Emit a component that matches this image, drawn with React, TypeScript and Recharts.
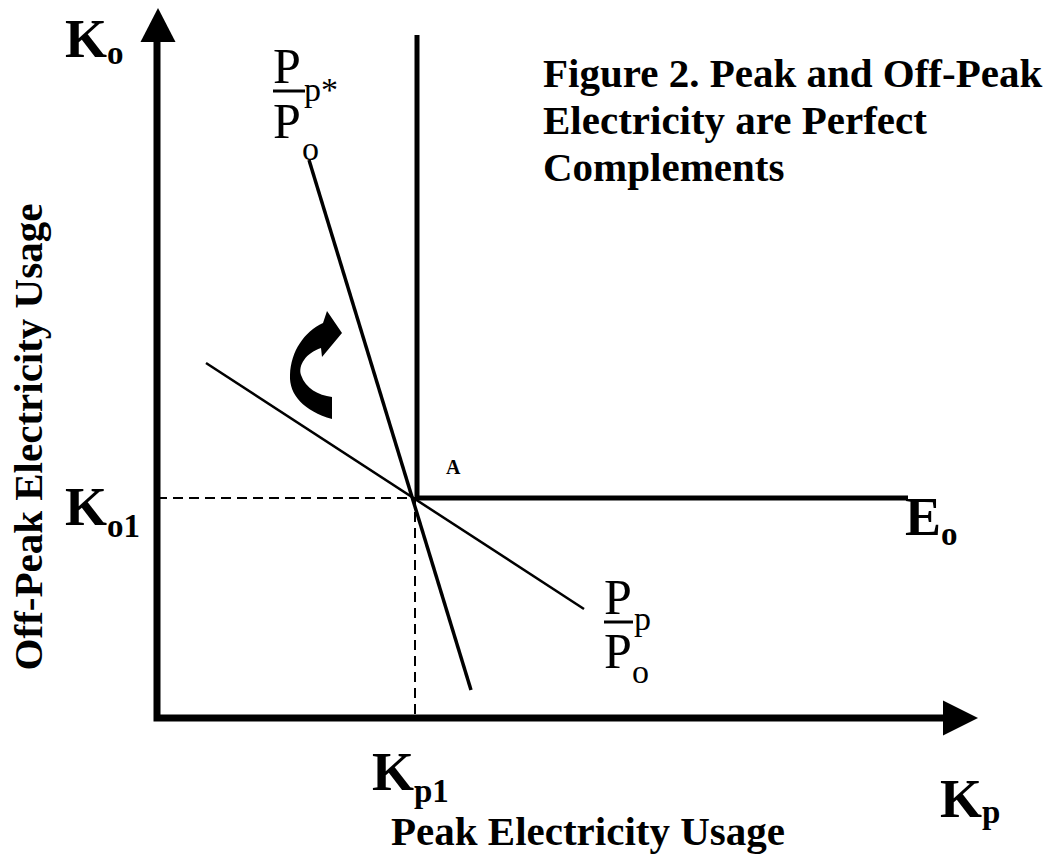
import { ComposedChart, Line, Scatter, XAxis, YAxis } from "recharts";

// diagram units: origin at the corner of the axes (Kp across, Ko up)
const axisFrame = [
  { x: 0, y: 676 },
  { x: 0, y: 0 },
  { x: 786, y: 0 },
];
const yAxisTip = [{ x: 1, y: 710 }];
const xAxisTip = [{ x: 821, y: 0 }];

// Leontief isoquant E_o with the corner at A = (Kp1, Ko1)
const isoquantEo = [
  { x: 260, y: 683 },
  { x: 260, y: 220 },
  { x: 751, y: 220 },
];
const guideKo1Kp1 = [
  { x: 0, y: 220 },
  { x: 258, y: 220 },
  { x: 258, y: 0 },
];
// price ratio lines through A
const priceRatioStar = [
  { x: 152, y: 558 },
  { x: 314, y: 28 },
];
const priceRatio = [
  { x: 49, y: 355 },
  { x: 427, y: 109 },
];
const rotationArrow = [{ x: 158, y: 353 }];

const FONT = "'Liberation Serif', 'Times New Roman', serif";

const UpTriangle = (props: any) => {
  const { cx, cy } = props;
  return <path d={`M${cx},${cy} L${cx + 17.5},${cy + 34} L${cx - 17.5},${cy + 34} Z`} fill="#000" />;
};

const RightTriangle = (props: any) => {
  const { cx, cy } = props;
  return <path d={`M${cx},${cy} L${cx - 35},${cy - 17.5} L${cx - 35},${cy + 17.5} Z`} fill="#000" />;
};

const CurvedArrow = (props: any) => {
  const { cx, cy } = props;
  return (
    <path
      transform={`translate(${cx},${cy})`}
      d="M17,54 C-11,46 -26,30 -25,10 C-24,-14 -11,-33 8,-42 L12,-54 L27,-32 L7,-8 L6,-17 C-9,-12 -17,0 -14,10 C-9,24 3,30 17,32 Z"
      fill="#000"
    />
  );
};

function Labels() {
  const bold = { fontFamily: FONT, fontWeight: 700, fill: "#000" } as const;
  const reg = { fontFamily: FONT, fontWeight: 400, fill: "#000" } as const;
  return (
    <svg
      width={1049}
      height={858}
      style={{ position: "absolute", left: 0, top: 0, pointerEvents: "none" }}
    >
      <text x={543} y={87} fontSize={41} {...bold}>Figure 2. Peak and Off-Peak</text>
      <text x={543} y={134} fontSize={41} {...bold}>Electricity are Perfect</text>
      <text x={543} y={181} fontSize={41} {...bold}>Complements</text>

      <text x={65} y={57} fontSize={54} {...bold}>
        K<tspan fontSize={33} dy={7}>o</tspan>
      </text>
      <text x={65} y={525} fontSize={54} {...bold}>
        K<tspan fontSize={33} dy={12}>o1</tspan>
      </text>
      <text x={372} y={790} fontSize={54} {...bold}>
        K<tspan fontSize={33} dy={12}>p1</tspan>
      </text>
      <text x={940} y={817} fontSize={54} {...bold}>
        K<tspan fontSize={33} dy={6}>p</tspan>
      </text>
      <text x={905} y={535} fontSize={54} {...bold}>
        E<tspan fontSize={33} dy={10}>o</tspan>
      </text>
      <text x={446} y={474} fontSize={20} {...bold}>A</text>

      <text x={588} y={845} fontSize={41} textAnchor="middle" {...bold}>Peak Electricity Usage</text>
      <text
        x={0}
        y={0}
        fontSize={41}
        textAnchor="middle"
        transform="translate(42,437) rotate(-90)"
        {...bold}
      >
        Off-Peak Electricity Usage
      </text>

      {/* Pp* / Po */}
      <text x={273} y={83} fontSize={50} {...reg}>P</text>
      <line x1={273} y1={91} x2={305} y2={91} stroke="#000" strokeWidth={3} />
      <text x={273} y={138} fontSize={50} {...reg}>P</text>
      <text x={304} y={101} fontSize={34} {...reg}>p*</text>
      <text x={302} y={160} fontSize={34} {...reg}>o</text>

      {/* Pp / Po */}
      <text x={604} y={614} fontSize={50} {...reg}>P</text>
      <line x1={604} y1={622} x2={633} y2={622} stroke="#000" strokeWidth={3} />
      <text x={604} y={668} fontSize={50} {...reg}>P</text>
      <text x={634} y={630} fontSize={34} {...reg}>p</text>
      <text x={632} y={683} fontSize={34} {...reg}>o</text>
    </svg>
  );
}

export default function App() {
  return (
    <div style={{ position: "relative", width: 1049, height: 858, background: "#fff" }}>
      <style>{`body{margin:0}`}</style>
      <ComposedChart width={1049} height={858} margin={{ top: 0, right: 0, bottom: 0, left: 0 }}>
        <XAxis type="number" dataKey="x" domain={[-157, 892]} hide allowDataOverflow />
        <YAxis type="number" dataKey="y" domain={[-140, 718]} hide allowDataOverflow />
        <Line data={guideKo1Kp1} dataKey="y" type="linear" stroke="#000" strokeWidth={2}
          strokeDasharray="10 6" dot={false} activeDot={false} isAnimationActive={false} />
        <Line data={axisFrame} dataKey="y" type="linear" stroke="#000" strokeWidth={7}
          strokeLinejoin="miter" dot={false} activeDot={false} isAnimationActive={false} />
        <Line data={isoquantEo} dataKey="y" type="linear" stroke="#000" strokeWidth={5}
          strokeLinejoin="miter" dot={false} activeDot={false} isAnimationActive={false} />
        <Line data={priceRatioStar} dataKey="y" type="linear" stroke="#000" strokeWidth={3.5}
          dot={false} activeDot={false} isAnimationActive={false} />
        <Line data={priceRatio} dataKey="y" type="linear" stroke="#000" strokeWidth={2.5}
          dot={false} activeDot={false} isAnimationActive={false} />
        <Scatter data={yAxisTip} dataKey="y" shape={UpTriangle} isAnimationActive={false} />
        <Scatter data={xAxisTip} dataKey="y" shape={RightTriangle} isAnimationActive={false} />
        <Scatter data={rotationArrow} dataKey="y" shape={CurvedArrow} isAnimationActive={false} />
      </ComposedChart>
      <Labels />
    </div>
  );
}
